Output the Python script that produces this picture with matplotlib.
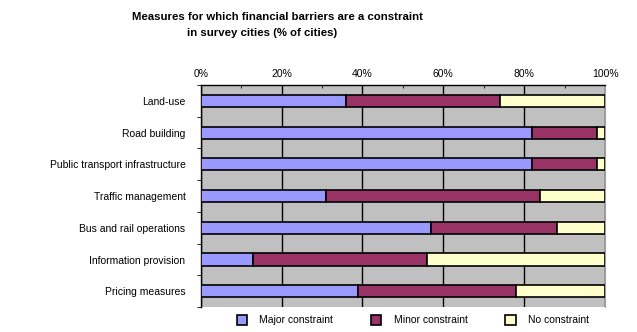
import matplotlib.pyplot as plt
import numpy as np
from matplotlib.ticker import MultipleLocator, FuncFormatter

categories = ["Land-use", "Road building", "Public transport infrastructure",
              "Traffic management", "Bus and rail operations",
              "Information provision", "Pricing measures"]
major = [36, 82, 82, 31, 57, 13, 39]
minor = [38, 16, 16, 53, 31, 43, 39]
none_ = [26, 2, 2, 16, 12, 44, 22]
series = ["Major constraint", "Minor constraint", "No constraint"]
colors = ["#9999FF", "#993366", "#FFFFCC"]

plt.rcParams['font.family'] = ['Liberation Sans', 'DejaVu Sans']

fig = plt.figure(figsize=(6.37, 3.32), dpi=100)
ax = fig.add_axes([0.315, 0.075, 0.635, 0.669])
ax.set_facecolor("#C0C0C0")

y = np.arange(len(categories))
left = np.zeros(len(categories))
for vals, name, c in zip([major, minor, none_], series, colors):
    ax.barh(y, vals, left=left, height=0.38, color=c, edgecolor="black",
            linewidth=1.2, label=name, zorder=3)
    left += np.array(vals)

ax.set_xlim(0, 100)
ax.set_ylim(len(categories) - 0.5, -0.5)
ax.xaxis.tick_top()
ax.xaxis.set_major_locator(MultipleLocator(20))
ax.xaxis.set_minor_locator(MultipleLocator(10))
ax.xaxis.set_major_formatter(FuncFormatter(lambda v, p: f"{v:.0f}%"))
ax.tick_params(axis='x', which='major', length=0, labelsize=7.5, pad=4)
ax.tick_params(axis='x', which='minor', length=2, direction='in')
ax.grid(axis='x', which='major', color='black', linewidth=1, zorder=1)
ax.set_axisbelow(True)

ax.set_yticks(y)
ax.set_yticklabels(categories)
ax.set_yticks(np.arange(len(categories) + 1) - 0.5, minor=True)
ax.tick_params(axis='y', which='major', length=0, labelsize=7.5, pad=11)
ax.tick_params(axis='y', which='minor', length=3, direction='out')

ax.spines['top'].set_linewidth(1)
ax.spines['left'].set_linewidth(1)
ax.spines['right'].set_color('#A0A0A0')
ax.spines['bottom'].set_visible(False)

fig.text(0.435, 0.950, "Measures for which financial barriers are a constraint",
         ha='center', va='center', fontsize=8.2, fontweight='bold')
fig.text(0.411, 0.900, "in survey cities (% of cities)",
         ha='center', va='center', fontsize=8.2, fontweight='bold')

fig.legend(loc='center', bbox_to_anchor=(0.648, 0.035), ncol=3, frameon=False,
           fontsize=7.5, handlelength=1.0, handleheight=1.0,
           columnspacing=3.6, handletextpad=1.2, borderaxespad=0)

fig.savefig("out.png", dpi=100)
